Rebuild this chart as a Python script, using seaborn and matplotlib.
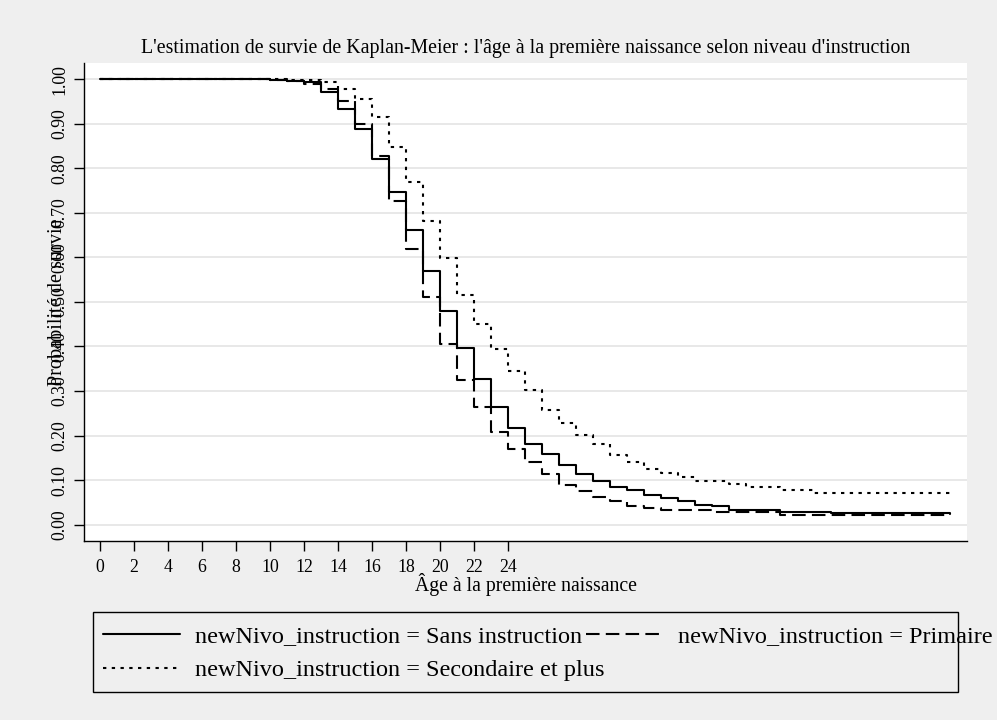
import pandas as pd
import matplotlib.pyplot as plt
import seaborn as sns
from matplotlib.patches import Rectangle

# ===== données (survie par âge, valeur tenue jusqu'à l'âge suivant) =====
ages = list(range(0, 51))

sans_instruction = [1.0] * 10 + [
    0.998, 0.996, 0.993, 0.972, 0.932, 0.889, 0.820, 0.746, 0.661, 0.569,
    0.479, 0.397, 0.326, 0.264, 0.217, 0.181, 0.159, 0.135, 0.114, 0.099,
    0.085, 0.078, 0.067, 0.060, 0.052, 0.044, 0.041, 0.033, 0.033, 0.033,
    0.029, 0.029, 0.029, 0.026, 0.026, 0.026, 0.026, 0.026, 0.026, 0.026,
    0.025,
]

primaire = [1.0] * 10 + [
    0.998, 0.995, 0.990, 0.977, 0.951, 0.899, 0.827, 0.727, 0.618, 0.511,
    0.406, 0.324, 0.264, 0.207, 0.170, 0.140, 0.114, 0.090, 0.075, 0.063,
    0.054, 0.043, 0.037, 0.033, 0.033, 0.033, 0.028, 0.028, 0.028, 0.028,
    0.021, 0.021, 0.021, 0.021, 0.021, 0.021, 0.021, 0.021, 0.021, 0.021,
    0.021,
]

secondaire = [1.0] * 11 + [
    0.999, 0.998, 0.994, 0.979, 0.955, 0.914, 0.847, 0.769, 0.682,
    0.598, 0.515, 0.451, 0.394, 0.344, 0.302, 0.258, 0.228, 0.202, 0.180,
    0.157, 0.140, 0.125, 0.115, 0.106, 0.097, 0.097, 0.091, 0.084, 0.084,
    0.078, 0.078, 0.072, 0.072, 0.072, 0.072, 0.072, 0.072, 0.072, 0.072,
    0.072,
]

groupes = [
    "newNivo_instruction = Sans instruction",
    "newNivo_instruction = Primaire",
    "newNivo_instruction = Secondaire et plus",
]

df = pd.concat([
    pd.DataFrame({"age": ages, "survie": vals, "groupe": g})
    for g, vals in zip(groupes, [sans_instruction, primaire, secondaire])
])

# ===== style =====
sns.set_theme(style="white")
plt.rcParams["font.family"] = ["Liberation Serif", "DejaVu Serif"]
plt.rcParams["text.color"] = "black"
plt.rcParams["axes.labelcolor"] = "black"
plt.rcParams["xtick.color"] = "black"
plt.rcParams["ytick.color"] = "black"

fig = plt.figure(figsize=(9.97, 7.2), dpi=100, facecolor="#efefef")
W, H = 997, 720
ax = fig.add_axes([84 / W, 1 - 540.7 / H, (967 - 84) / W, (540.7 - 62.7) / H])
ax.set_facecolor("white")

sns.lineplot(
    data=df, x="age", y="survie", style="groupe",
    dashes={groupes[0]: "", groupes[1]: (6.5, 3), groupes[2]: (1.6, 2.6)},
    color="black", lw=1.5, drawstyle="steps-post",
    estimator=None, legend=False, ax=ax,
)

ax.set_xlim(-0.94, 51.0)
ax.set_ylim(-0.036, 1.037)
ax.set_xticks(range(0, 25, 2))
yt = [i / 10 for i in range(11)]
ax.set_yticks(yt)
ax.set_yticklabels([f"{v:.2f}" for v in yt], rotation=90, va="center", ha="right")
ax.tick_params(axis="both", labelsize=12.8, length=7.2, width=1, color="black",
               direction="out", left=True, bottom=True)
ax.tick_params(axis="y", pad=4)
ax.tick_params(axis="x", pad=6)
ax.grid(axis="y", color="#e6e6e6", lw=1.3)
ax.grid(axis="x", visible=False)
for s in ["top", "right"]:
    ax.spines[s].set_visible(False)
for s in ["left", "bottom"]:
    ax.spines[s].set_color("black")
    ax.spines[s].set_linewidth(1)

ax.set_xlabel("Âge à la première naissance", fontsize=14.2, va="center")
ax.xaxis.set_label_coords(0.5, (540.7 - 585) / 478)
ax.set_ylabel("Probabilité de survie", fontsize=14.6, va="center")
ax.yaxis.set_label_coords((57 - 84) / 883, 0.5)

fig.text(525.5 / W, 1 - 48 / H,
         "L'estimation de survie de Kaplan-Meier : l'âge à la première naissance selon niveau d'instruction",
         ha="center", va="center", fontsize=14.3)

# ===== légende (cadre dessiné à part, comme dans Stata le texte déborde) =====
lines = ax.get_lines()
handles = [lines[0], lines[2], lines[1]]
labels = [groupes[0], groupes[2], groupes[1]]
fig.legend(handles, labels, ncol=2, frameon=False, fontsize=17.5,
           loc="upper left", bbox_to_anchor=(103 / W, 1 - 625 / H),
           borderpad=0, borderaxespad=0, handlelength=3.17, handletextpad=0.62,
           columnspacing=-0.78, labelspacing=0.5)
fig.add_artist(Rectangle((93.3 / W, 1 - 691.7 / H), (958.3 - 93.3) / W, (691.7 - 612.3) / H,
                         transform=fig.transFigure, fill=False, edgecolor="black", lw=1))

plt.savefig("out.png", dpi=100, facecolor=fig.get_facecolor())
